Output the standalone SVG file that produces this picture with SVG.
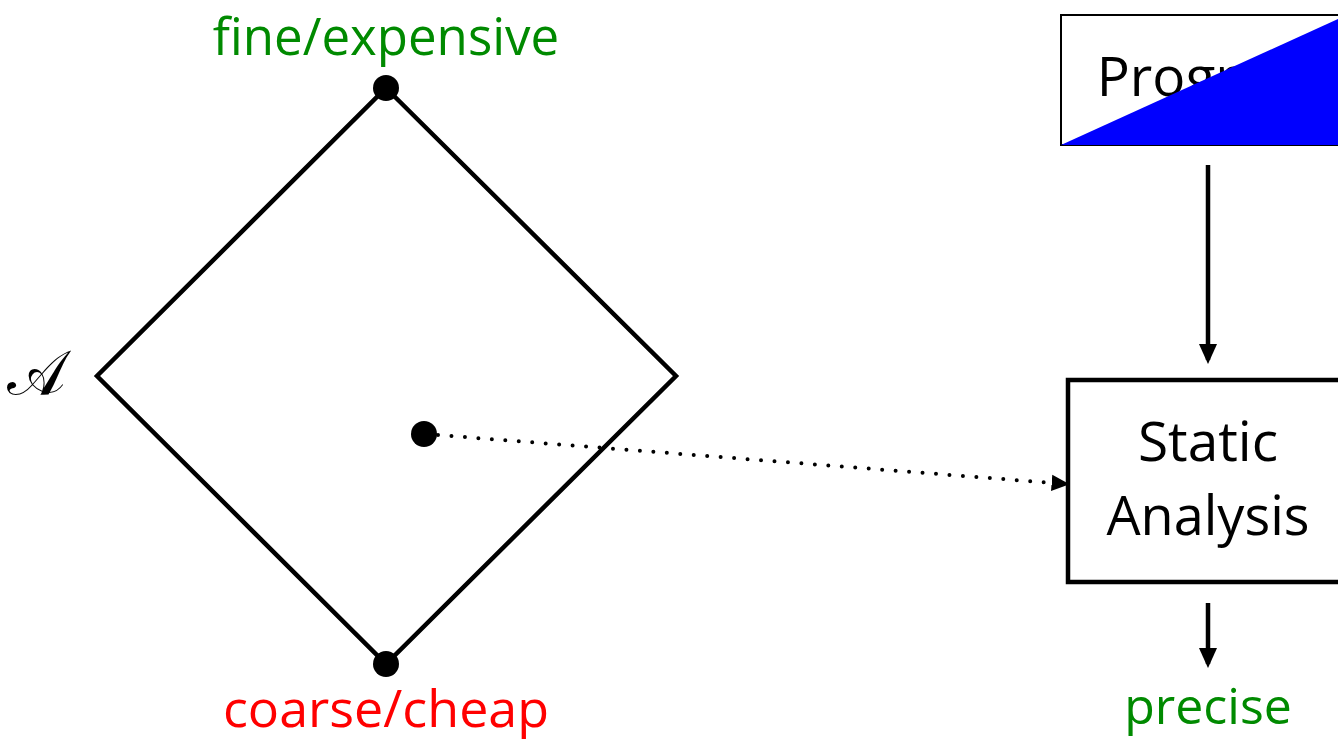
<svg xmlns="http://www.w3.org/2000/svg" width="1338" height="741" viewBox="0 0 1338 741">
<style>
.t{font-family:"Open Sans","Liberation Sans",sans-serif;text-anchor:middle}
.g{fill:#008a00}
.r{fill:#ff0000}
.k{fill:#000}
.ln{stroke:#000;stroke-width:4.5;fill:none}
</style>
<defs>
<marker id="ah" viewBox="0 0 10 10" refX="8" refY="5" markerWidth="4.5" markerHeight="4.5" markerUnits="strokeWidth" orient="auto">
<path d="M0,0.5 L10,5 L0,9.5 Z" fill="#000"/>
</marker>
</defs>
<rect width="1338" height="741" fill="#fff"/>
<g id="lattice">
<path class="ln" d="M386,88 L676,376 L386,664 L97,376 Z" stroke-linejoin="miter"/>
<circle cx="386" cy="88" r="13" fill="#000"/>
<circle cx="386" cy="664" r="13" fill="#000"/>
<circle cx="424" cy="434" r="13" fill="#000"/>
<text x="36" y="394" font-family="'DejaVu Serif','Liberation Serif',serif" font-size="62" text-anchor="middle">𝒜</text>
</g>
<g id="labels">
<text class="t g" x="386" y="55" font-size="51">fine/expensive</text>
<text class="t r" x="386" y="727" font-size="52">coarse/cheap</text>
<text class="t g" x="1208" y="724" font-size="50">precise</text>
</g>
<g id="program">
<rect x="1061" y="15" width="290" height="130" fill="#fff" stroke="#000" stroke-width="2"/>
<text class="t k" x="1208" y="96" font-size="55">Program</text>
<polygon points="1061,145 1338,19 1338,145" fill="#0000ff"/>
</g>
<g id="analysis">
<rect x="1068" y="380" width="290" height="202" fill="#fff" stroke="#000" stroke-width="4.5"/>
<text class="t k" x="1208" y="461" font-size="55">Static</text>
<text class="t k" x="1208" y="535" font-size="54">Analysis</text>
</g>
<g id="connectors">
<line class="ln" x1="1208" y1="165" x2="1208" y2="360" marker-end="url(#ah)"/>
<line class="ln" x1="1208" y1="603" x2="1208" y2="664" marker-end="url(#ah)"/>
<line x1="438" y1="435" x2="1066" y2="484" stroke="#000" stroke-width="4" stroke-dasharray="0 13.5" stroke-linecap="round" marker-end="url(#ah)"/>
</g>
</svg>
